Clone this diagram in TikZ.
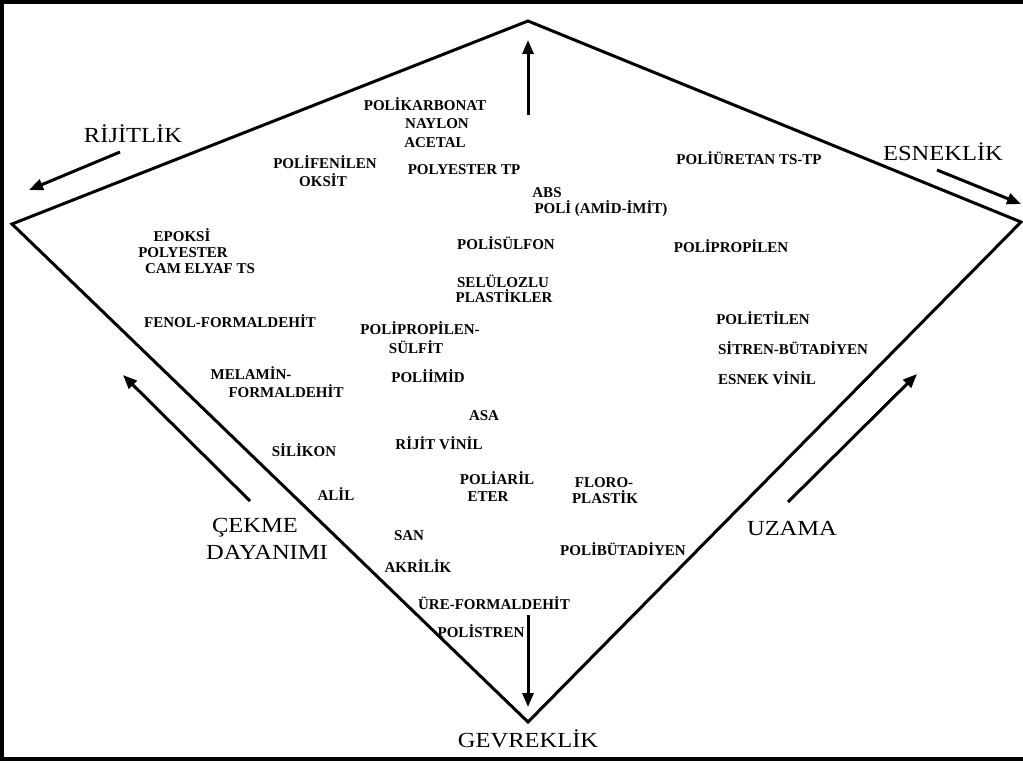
\documentclass[tikz,border=0pt]{standalone}
\usepackage{fontspec}
\setmainfont{Liberation Serif}
\newfontfamily\buyukyazi[FakeStretch=1.14]{Liberation Serif}
\usetikzlibrary{arrows.meta}

\tikzset{
  malzeme/.style = {font=\bfseries\fontsize{15}{17}\selectfont, inner sep=0pt, anchor=base},
  ozellik/.style = {font=\buyukyazi\fontsize{21.5}{24}\selectfont, inner sep=0pt, anchor=base},
  kenar/.style   = {line width=3pt},
  yon/.style     = {line width=3pt, -{Triangle[length=14pt,width=11pt]}},
}

\begin{document}
\begin{tikzpicture}[x=1pt, y=-1pt]
  \useasboundingbox (0,0) rectangle (1023,763);
  % cerceve
  \draw[line width=4pt] (1023,2) -- (2,2) -- (2,759) -- (1023,759);

  % dortgenin koseleri
  \coordinate (ust)  at (528, 21);
  \coordinate (sag)  at (1021,222);
  \coordinate (alt)  at (528,722);
  \coordinate (sol)  at (12, 224);
  \draw[kenar] (ust) -- (sag) -- (alt) -- (sol) -- cycle;

  % oklarin uclari
  \coordinate (ust1) at (528,115);  \coordinate (ust2) at (528, 40);
  \coordinate (rij1) at (120,152);  \coordinate (rij2) at ( 29,190);
  \coordinate (esn1) at (937,170);  \coordinate (esn2) at (1021,204);
  \coordinate (cek1) at (250,501);  \coordinate (cek2) at (123,375);
  \coordinate (uza1) at (788,502);  \coordinate (uza2) at (917,374);
  \coordinate (gev1) at (528,615);  \coordinate (gev2) at (528,707);

  \draw[yon] (ust1) -- (ust2);
  \draw[yon] (rij1) -- (rij2);
  \draw[yon] (esn1) -- (esn2);
  \draw[yon] (cek1) -- (cek2);
  \draw[yon] (uza1) -- (uza2);
  \draw[yon] (gev1) -- (gev2);

  % ozellikler
  \node[ozellik] at (133,142) (rijitlik)  {RİJİTLİK};
  \node[ozellik] at (943,160) (esneklik)  {ESNEKLİK};
  \node[ozellik] at (255,532) (cekme)     {ÇEKME};
  \node[ozellik] at (267,559) (dayanim)   {DAYANIMI};
  \node[ozellik] at (792,535) (uzama)     {UZAMA};
  \node[ozellik] at (528,747) (gevreklik) {GEVREKLİK};

  % malzemeler
  \node[malzeme] at (425,110) (polikarbonat) {POLİKARBONAT};
  \node[malzeme] at (437,128) (naylon)       {NAYLON};
  \node[malzeme] at (435,147) (acetal)       {ACETAL};
  \node[malzeme] at (325,168) (polifenilen)  {POLİFENİLEN};
  \node[malzeme] at (323,186) (oksit)        {OKSİT};
  \node[malzeme] at (464,174) (polyestertp)  {POLYESTER TP};
  \node[malzeme] at (547,197) (abs)          {ABS};
  \node[malzeme] at (601,213) (amidimit)     {POLİ (AMİD-İMİT)};
  \node[malzeme] at (749,164) (poliuretan)   {POLİÜRETAN TS-TP};
  \node[malzeme] at (182,241) (epoksi)       {EPOKSİ};
  \node[malzeme] at (183,257) (polyester)    {POLYESTER};
  \node[malzeme] at (200,273) (camelyaf)     {CAM ELYAF TS};
  \node[malzeme] at (506,249) (polisulfon)   {POLİSÜLFON};
  \node[malzeme] at (731,252) (polipropilen) {POLİPROPİLEN};
  \node[malzeme] at (503,287) (selulozlu)    {SELÜLOZLU};
  \node[malzeme] at (504,302) (plastikler)   {PLASTİKLER};
  \node[malzeme] at (230,327) (fenol)        {FENOL-FORMALDEHİT};
  \node[malzeme] at (420,334) (pps1)         {POLİPROPİLEN-};
  \node[malzeme] at (416,353) (pps2)         {SÜLFİT};
  \node[malzeme] at (763,324) (polietilen)   {POLİETİLEN};
  \node[malzeme] at (793,354) (sitren)       {SİTREN-BÜTADİYEN};
  \node[malzeme] at (767,384) (esnekvinil)   {ESNEK VİNİL};
  \node[malzeme] at (251,379) (melamin1)     {MELAMİN-};
  \node[malzeme] at (286,397) (melamin2)     {FORMALDEHİT};
  \node[malzeme] at (428,382) (poliimid)     {POLİİMİD};
  \node[malzeme] at (484,420) (asa)          {ASA};
  \node[malzeme] at (439,449) (rijitvinil)   {RİJİT VİNİL};
  \node[malzeme] at (304,456) (silikon)      {SİLİKON};
  \node[malzeme] at (497,484) (poliaril1)    {POLİARİL};
  \node[malzeme] at (488,501) (poliaril2)    {ETER};
  \node[malzeme] at (604,487) (floro1)       {FLORO-};
  \node[malzeme] at (605,503) (floro2)       {PLASTİK};
  \node[malzeme] at (336,500) (alil)         {ALİL};
  \node[malzeme] at (409,540) (san)          {SAN};
  \node[malzeme] at (623,555) (polibutadiyen){POLİBÜTADİYEN};
  \node[malzeme] at (418,572) (akrilik)      {AKRİLİK};
  \node[malzeme] at (494,609) (ure)          {ÜRE-FORMALDEHİT};
  \node[malzeme] at (481,637) (polistren)    {POLİSTREN};
\end{tikzpicture}
\end{document}
